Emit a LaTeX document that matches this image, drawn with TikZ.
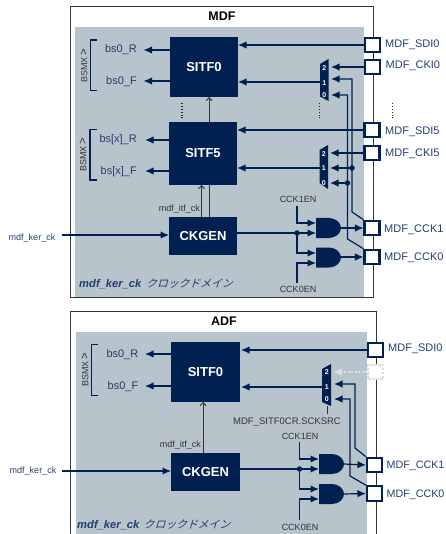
\documentclass[tikz,border=0pt]{standalone}
\usepackage{fontspec}
\setmainfont{Liberation Sans}
\newfontfamily\jpfont[FakeSlant=0.3]{Noto Sans CJK JP}
\usetikzlibrary{arrows.meta}
\definecolor{navy}{HTML}{002052}
\definecolor{pane}{HTML}{B8C4CC}
\definecolor{ink}{HTML}{233F70}
\definecolor{ghost}{HTML}{DCDEDE}
\newcommand{\chev}{{\fontsize{11.5}{11.5}\selectfont >}}
\tikzset{
 x=1pt,y=-1pt,
 frame/.style={draw=black!80,line width=1pt,fill=white},
 panel/.style={fill=pane,draw=none},
 block/.style={fill=navy,text=white,font=\fontsize{13}{13}\bfseries\selectfont,inner sep=0,anchor=center},
 port/.style={draw=navy,line width=2.1pt,fill=white,minimum width=15pt,minimum height=14.5pt,inner sep=0},
 plab/.style={text=ink,font=\fontsize{11}{11}\selectfont,anchor=west,inner sep=0,text height=7.9pt,text depth=0pt},
 slab/.style={text=ink,font=\fontsize{11}{11}\selectfont,anchor=east,inner sep=0,text height=7.9pt,text depth=0pt},
 blk/.style={text=black!80,font=\fontsize{9}{9}\selectfont,inner sep=0,text height=6.5pt,text depth=0pt},
 klab/.style={text=ink,font=\fontsize{9}{9}\selectfont,inner sep=0,text height=6.5pt,text depth=0pt},
 wire/.style={draw=navy,line width=1.2pt},
 sig/.style={wire,-{Latex[length=8.5pt,width=7.5pt]}},
 open/.style={draw=black!80,line width=1pt,-{Straight Barb[length=3pt,width=6pt]}},
 thin/.style={draw=black!80,line width=1pt},
 mux/.style={fill=navy,draw=none},
 mlab/.style={text=white,font=\fontsize{7}{7}\bfseries\selectfont,inner sep=0},
 jdot/.style={circle,fill=navy,minimum size=5.5pt,inner sep=0},
 brk/.style={draw=navy,line width=1.8pt},
 bsmx/.style={text=black!80,font=\fontsize{9}{9}\selectfont,rotate=90,inner sep=0},
 dots/.style={draw=black!85,line width=1.5pt,dash pattern=on 1.4pt off 1.5pt},
 andg/.style={fill=navy,draw=none},
 title/.style={text=black,font=\fontsize{12.5}{12.5}\bfseries\selectfont,inner sep=0},
 dom/.style={text=ink,font=\fontsize{11.2}{11.2}\bfseries\itshape\selectfont,anchor=west,inner sep=0},
 jdom/.style={text=ink,font=\fontsize{10.8}{10.8}\jpfont,anchor=west,inner sep=0},
}
\newcommand{\andshape}[2]{\fill[andg] (#1,#2-10) -- (#1+13,#2-10) .. controls (#1+20,#2-10) and (#1+25,#2-5) .. (#1+25,#2) .. controls (#1+25,#2+5) and (#1+20,#2+10) .. (#1+13,#2+10) -- (#1,#2+10) -- cycle;}
\begin{document}
\begin{tikzpicture}
\useasboundingbox (0,0) rectangle (445,534);
% ---------- MDF
\path[frame] (70,7) rectangle (373,297);
\path[panel] (75,27) rectangle (364,296.5);
\node[title] (t1) at (222,16) {MDF};
\node[block,minimum width=68pt,minimum height=60pt] (s0) at (204,67) {SITF0};
\node[block,minimum width=68pt,minimum height=63pt] (s5) at (203,153.5) {SITF5};
\node[block,minimum width=68pt,minimum height=38pt] (ck) at (203,236) {CKGEN};
\node[port] (sdi0) at (372.5,45) {};
\node[port] (cki0) at (372.5,67) {};
\node[port] (sdi5) at (372,130) {};
\node[port] (cki5) at (372,153) {};
\node[port] (cck1) at (372,228) {};
\node[port] (cck0) at (372,257) {};
\node[plab] (l1) at (385,44) {MDF\_SDI0};
\node[plab] (l2) at (385.5,65) {MDF\_CKI0};
\node[plab] (l3) at (385,131) {MDF\_SDI5};
\node[plab] (l4) at (385,153) {MDF\_CKI5};
\node[plab] (l5) at (384,229) {MDF\_CCK1};
\node[plab] (l6) at (384,257) {MDF\_CCK0};
\node[slab] (r0) at (137,49) {bs0\_R};
\node[slab] (f0) at (137,81) {bs0\_F};
\node[slab] (rx) at (137,139) {bs[x]\_R};
\node[slab] (fx) at (137,171) {bs[x]\_F};
\coordinate (ar0) at (143.5,50);
\coordinate (af0) at (143.5,81);
\coordinate (arx) at (145,140);
\coordinate (afx) at (145,171);
\draw[sig] (170,50) -- (ar0);
\draw[sig] (170,81) -- (af0);
\draw[sig] (169,140) -- (arx);
\draw[sig] (169,171) -- (afx);
\draw[brk] (97,40) -| (90.5,90.5) -- (97,90.5);
\draw[brk] (96.5,129.5) -| (90,180) -- (96.5,180);
\node[bsmx] (b1) at (84,66) {BSMX\,\chev};
\node[bsmx] (b2) at (83,155) {BSMX\,\chev};
\draw[dots] (182,103) -- (182,118);
\draw[dots] (319.5,103) -- (319.5,118);
\draw[dots] (392.5,103) -- (392.5,118);
% muxes
\fill[mux] (320,64) -- (328.5,59) -- (328.5,101) -- (320,96.5) -- cycle;
\fill[mux] (319.5,150) -- (328,145) -- (328,189) -- (319.5,183) -- cycle;
\node[mlab] at (324.2,68) {2};
\node[mlab] at (324.2,83) {1};
\node[mlab] at (324.2,95) {0};
\node[mlab] at (323.7,154) {2};
\node[mlab] at (323.7,168) {1};
\node[mlab] at (323.7,183) {0};
\draw[sig] (sdi0.west) -- (238,45);
\draw[sig] (cki0.west) -- (331,67);
\draw[sig] (320,82) -- (238,82);
\draw[sig] (sdi5.west) -- (237,130);
\draw[sig] (cki5.west) -- (330,153);
\draw[sig] (319.5,168) -- (237,168);
\draw[sig] (cck1.north west) -- (352,212) -- (352,79) -- (331,79);
\draw[sig] (cck0.north west) -- (347.5,239) -- (347.5,95) -- (331,95);
\draw[sig] (352,168) -- (330,168);
\draw[sig] (347.5,183) -- (330,183);
\node[jdot] (j1) at (352,168) {};
\node[jdot] (j2) at (347.5,183) {};
\draw[open] (209,122) -- (209,97);
\draw[thin] (209,217) -- (209,185);
\draw[open] (201.5,217) -- (201.5,185);
\node[blk,anchor=east] (it1) at (200,208) {mdf\_itf\_ck};
\node[klab] (k1) at (32,237) {mdf\_ker\_ck};
\coordinate (ks1) at (62,235);
\draw[sig] (ks1) -- (169,235);
\node[dom] (d1) at (79,284) {mdf\_ker\_ck};
\node[jdom] (d1j) at (146,283.5) {クロックドメイン};
% gates
\andshape{316}{228}
\andshape{316}{257.5}
\node[blk] (e1) at (298,199) {CCK1EN};
\node[blk] (e0) at (298,289) {CCK0EN};
\draw[wire] (237,233) -- (297,233);
\draw[sig] (297,233) -- (316,233);
\draw[sig] (297,233) -- (297,253) -- (316,253);
\draw[sig] (297,206) -- (297,223) -- (316,223);
\draw[sig] (297,283) -- (297,263) -- (316,263);
\node[jdot] (j3) at (297,233) {};
\draw[sig] (341,228) -- (cck1.west);
\draw[sig] (341,257) -- (cck0.west);
% ---------- ADF
\path[frame,fill=none] (70.5,534) -- (70.5,311) -- (376.5,311) -- (376.5,534);
\path[panel] (76,332) rectangle (367,534);
\node[title] (t2) at (224,321) {ADF};
\node[block,minimum width=69pt,minimum height=60pt] (as) at (205.5,372) {SITF0};
\node[block,minimum width=69pt,minimum height=38pt] (ac) at (205.5,472) {CKGEN};
\node[port] (asdi) at (375.5,350) {};
\node[port,draw=ghost,fill=white,dash pattern=on 2.5pt off 1.5pt,line width=1.8pt] (agh) at (375.5,372) {};
\node[port] (acc1) at (374.5,465) {};
\node[port] (acc0) at (374.5,493.5) {};
\node[plab] (al1) at (388,348) {MDF\_SDI0};
\node[plab,font=\fontsize{10.7}{10.7}\selectfont] (al2) at (386.5,465) {MDF\_CCK1};
\node[plab,font=\fontsize{10.7}{10.7}\selectfont] (al3) at (386.5,494) {MDF\_CCK0};
\node[slab] (ar) at (138.5,354) {bs0\_R};
\node[slab] (af) at (138.5,386) {bs0\_F};
\coordinate (aar) at (145,354);
\coordinate (aaf) at (145,386);
\draw[sig] (171,354) -- (aar);
\draw[sig] (171,386) -- (aaf);
\draw[brk] (98,344.5) -| (91.5,395.5) -- (98,395.5);
\node[bsmx] (b3) at (85,370) {BSMX\,\chev};
\fill[mux] (322,369) -- (331,364) -- (331,406) -- (322,402) -- cycle;
\node[mlab] at (326.7,372) {2};
\node[mlab] at (326.7,387) {1};
\node[mlab] at (326.7,399.5) {0};
\draw[sig] (asdi.west) -- (241,350);
\draw[sig] (322,387) -- (241,387);
\draw[sig,draw=ghost,dash pattern=on 2pt off 1.5pt] (agh.west) -- (333,372);
\draw[sig] (acc1.north west) -- (355,448) -- (355,384) -- (334,384);
\draw[sig] (acc0.north west) -- (350,476) -- (350,399) -- (334,399);
\coordinate (sel) at (327,414);
\draw[thin] (327,406) -- (sel);
\node[blk,font=\fontsize{9.5}{9.5}\selectfont] (sc) at (287,421) {MDF\_SITF0CR.SCKSRC};
\draw[open] (203,453) -- (203,402);
\node[blk,anchor=east] (it2) at (201,444) {mdf\_itf\_ck};
\node[klab] (k2) at (33,470) {mdf\_ker\_ck};
\coordinate (ks2) at (62,471);
\draw[sig] (ks2) -- (171,471);
\node[dom] (d2) at (77,525) {mdf\_ker\_ck};
\node[jdom] (d2j) at (143.5,524.5) {クロックドメイン};
\andshape{319}{464}
\andshape{319}{494}
\node[blk] (ae1) at (300,436) {CCK1EN};
\node[blk] (ae0) at (300,527) {CCK0EN};
\draw[wire] (240,469) -- (299.5,469);
\draw[sig] (299.5,469) -- (319,469);
\draw[sig] (299.5,469) -- (299.5,489) -- (319,489);
\draw[sig] (299.5,442) -- (299.5,459) -- (319,459);
\draw[sig] (299.5,520) -- (299.5,499) -- (319,499);
\node[jdot] (j4) at (299.5,469) {};
\draw[sig] (344,464) -- (acc1.west);
\draw[sig] (344,494) -- (acc0.west);
\end{tikzpicture}
\end{document}
